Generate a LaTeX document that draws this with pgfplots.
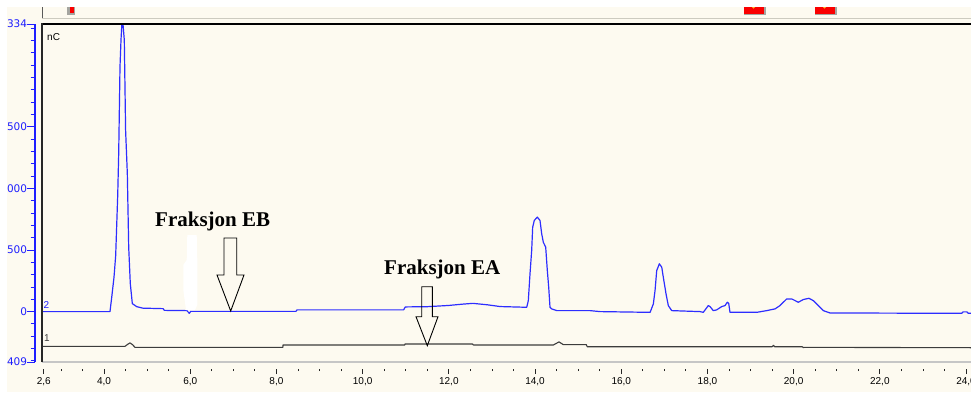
\documentclass[border=0pt]{standalone}
\usepackage{pgfplots}
\pgfplotsset{compat=1.18}
\usepackage{fontspec}
\setmainfont{Liberation Sans}
\newfontfamily\timesfont{Liberation Serif}
\newfontfamily\dejafont{DejaVu Sans}
\definecolor{cream}{RGB}{253,250,240}
\definecolor{trace2}{RGB}{45,45,255}
\definecolor{trace1}{RGB}{60,60,60}
\definecolor{axblue}{RGB}{30,30,255}
\definecolor{stripgray}{RGB}{205,203,192}
\definecolor{mkred}{RGB}{250,0,0}
\definecolor{mkgray}{RGB}{165,165,160}
\definecolor{mkorange}{RGB}{255,190,40}
\begin{document}
\begin{tikzpicture}[x=1pt,y=1pt]
\fill[cream] (0,0) rectangle (971,392);
% top strip
\draw[gray!70!black, line width=1.2pt] (42.2,385.3) -- (42.2,373);
\draw[stripgray, line width=1.5pt] (42.2,373.3) -- (975,373.3);
\fill[mkgray] (67,377) rectangle (75,385.3);
\fill[mkred] (69.5,378.5) rectangle (73.5,385.3);
\fill[mkgray] (744,376.5) rectangle (766,385.3);
\fill[mkred] (744,378) rectangle (764,385.3);
\draw[mkorange, line width=0.8pt] (753.5,385.8) circle (1.8);
\fill[mkgray] (815,376.5) rectangle (837,385.3);
\fill[mkred] (815,378) rectangle (835,385.3);
\draw[mkorange, line width=0.8pt] (824.5,385.8) circle (1.8);
% main plot area
\begin{axis}[at={(42.2pt,30pt)}, anchor=south west, scale only axis,
  width=932.8pt, height=338pt,
  xmin=2.565, xmax=24.208, ymin=-409, ymax=2334,
  hide axis, clip=true]
\addplot[trace2, line width=1.2pt, line join=round] coordinates {
(2.565,0) (4.138,0) (4.178,116) (4.231,279) (4.27,455) (4.317,943) (4.34,1285)
(4.37,1986) (4.393,2203) (4.424,2400) (4.47,2203) (4.50,1472) (4.54,1122)
(4.572,523) (4.609,228) (4.656,65) (4.758,40) (4.9,28) (5.37,24) (5.40,10)
(5.92,8) (5.98,-14) (6.01,2) (8.45,2) (8.48,14) (10.95,14) (10.99,38) (11.5,40)
(12.0,50) (12.3,60) (12.56,67) (12.9,55) (13.19,41) (13.5,38) (13.807,35)
(13.844,89) (13.883,307) (13.922,496) (13.945,685) (13.983,740) (14.052,767)
(14.115,740) (14.154,632) (14.192,563) (14.247,523) (14.285,333) (14.317,197)
(14.347,35) (14.387,22) (14.503,8) (15.275,8) (15.51,0) (16.67,-6) (16.745,63)
(16.784,171) (16.823,333) (16.884,388) (16.94,360) (16.976,279) (17.039,144)
(17.092,49) (17.171,8) (17.828,0) (17.904,-6) (18.02,49) (18.059,41) (18.136,8)
(18.215,14) (18.331,41) (18.408,49) (18.461,76) (18.493,67) (18.523,-6)
(19.143,-6) (19.375,8) (19.567,22) (19.683,49) (19.839,103) (19.955,103)
(20.108,76) (20.224,98) (20.356,108) (20.456,89) (20.572,49) (20.688,8)
(20.843,-11) (23.9,-14) (23.93,-2) (24.02,-2) (24.05,-14) (24.208,-14)
};
\addplot[trace1, line width=1.1pt, line join=round] coordinates {
(2.565,-282) (4.486,-282) (4.55,-265) (4.602,-254) (4.66,-268) (4.718,-290)
(8.15,-290) (8.152,-271) (10.98,-271) (10.983,-263) (12.55,-263) (12.57,-271)
(14.424,-271) (14.556,-246) (14.656,-268) (15.19,-268) (15.21,-285) (19.5,-285)
(19.53,-274) (19.56,-285) (20.2,-285) (20.225,-293) (20.25,-290) (24.208,-293)
};
\end{axis}
% frame
\draw[gray!45, line width=1.3pt] (42.2,30) -- (975,30);
\draw[black, line width=1.7pt] (41.2,368) -- (975,368);
\draw[black!85, line width=2pt] (42.2,30) -- (42.2,368.8);
% y axis
\begin{axis}[at={(35pt,30pt)}, anchor=south west, scale only axis,
  width=10pt, height=338pt, xmin=0, xmax=1, ymin=-409, ymax=2334,
  axis y line=left, axis x line=none,
  axis line style={-, axblue, line width=1.2pt},
  ytick={-409,0,500,1000,1500,2334},
  yticklabels={-409,0,500,1000,1500,2334},
  minor ytick={-400,-300,...,2300},
  tick align=outside, major tick length=7.7pt, minor tick length=4.3pt,
  tick style={axblue, line width=0.9pt},
  yticklabel style={font=\fontsize{10.5}{12}\selectfont\dejafont, text=axblue, inner sep=0pt}]
\end{axis}
% x axis ticks
\begin{axis}[at={(42.2pt,23pt)}, anchor=south west, scale only axis,
  width=932.8pt, height=2pt, xmin=2.565, xmax=24.208, ymin=0, ymax=1,
  axis x line=bottom, axis y line=none,
  axis line style={draw=none},
  xtick={2.6,4,6,8,10,12,14,16,18,20,22,24},
  xticklabels={{2,6},{4,0},{6,0},{8,0},{10,0},{12,0},{14,0},{16,0},{18,0},{20,0},{22,0},{24,0}},
  minor xtick={3,3.5,...,24},
  tick align=outside, major tick length=5pt, minor tick length=2pt,
  tick style={black!85, line width=0.8pt},
  xticklabel style={font=\fontsize{10}{12}\selectfont, inner sep=0pt, anchor=north, yshift=-3pt}]
\end{axis}
% annotations
\node[anchor=base west, inner sep=0pt, font=\fontsize{10}{12}\selectfont] at (47,352) {nC};
\node[anchor=base west, inner sep=0pt, text=axblue, font=\fontsize{10}{12}\selectfont] at (43.5,84) {2};
\node[anchor=base west, inner sep=0pt, text=trace1, font=\fontsize{10}{12}\selectfont] at (44,50.5) {1};
\fill[white] (187.3,157) -- (196.7,157) -- (197.3,132) -- (197.3,87) -- (195,82) -- (186,82) -- (183.3,102) -- (183.3,127) -- (186.7,132) -- cycle;
\draw[black, line width=0.9pt, line join=miter] (224,154) -- (236.7,154) -- (236.7,117) -- (244,117) -- (230.7,81) -- (217,117) -- (224,117) -- cycle;
\draw[black, line width=0.9pt, line join=miter] (421.7,105.3) -- (432.3,105.3) -- (432.3,75.3) -- (438,75.3) -- (427.3,46.3) -- (416,75.3) -- (421.7,75.3) -- cycle;
\node[anchor=base west, inner sep=0pt, font={\fontsize{21}{24}\selectfont\timesfont\bfseries}] at (155,166) {Fraksjon EB};
\node[anchor=base west, inner sep=0pt, font={\fontsize{21}{24}\selectfont\timesfont\bfseries}] at (384,118) {Fraksjon EA};
% white margins of the screenshot
\fill[white] (-60,385.3) rectangle (1000,420);
\fill[white] (-60,-20) rectangle (7,420);
\pgfresetboundingbox
\path[use as bounding box] (0,0) rectangle (971,392);
\end{tikzpicture}
\end{document}
